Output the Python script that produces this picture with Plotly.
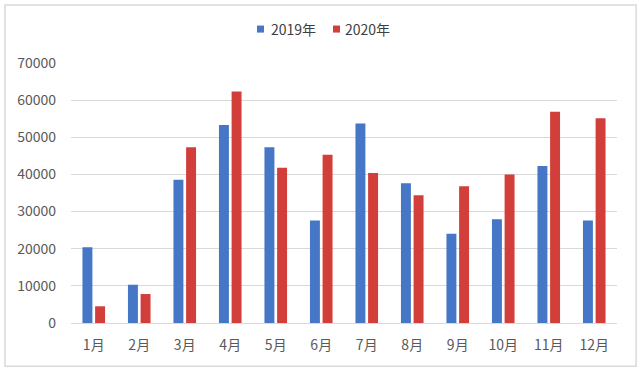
import plotly.graph_objects as go

months = ["1月", "2月", "3月", "4月", "5月", "6月", "7月", "8月", "9月", "10月", "11月", "12月"]
sales_2019 = [20400, 10300, 38600, 53300, 47300, 27600, 53700, 37600, 24000, 27900, 42300, 27600]
sales_2020 = [4500, 7800, 47300, 62300, 41800, 45300, 40400, 34400, 36800, 40000, 56900, 55100]
series_names = ["2019年", "2020年"]
y_ticks = [0, 10000, 20000, 30000, 40000, 50000, 60000, 70000]

blue = "#4577C6"
red = "#D23F3B"
series_colors = [blue, red]
font_family = "Noto Sans CJK SC, Noto Sans, sans-serif"
text_color = "#595959"

fig = go.Figure()
for nm, vals, col in zip(series_names, [sales_2019, sales_2020], series_colors):
    fig.add_trace(go.Bar(x=months, y=vals, name=nm,
                         marker=dict(color=col, line=dict(width=0)), showlegend=False))

# custom compact legend: small square swatch + label
swatch_x = [0.3407, 0.4799]
label_x = [0.3626, 0.4982]
annotations = []
shapes = [dict(type="rect", xref="paper", yref="paper",
               x0=-0.121, x1=1.035, y0=-0.166, y1=1.223,
               line=dict(color="#d9d9d9", width=1.5), fillcolor="rgba(0,0,0,0)",
               layer="below")]
for nm, col, sx, lx in zip(series_names, series_colors, swatch_x, label_x):
    shapes.append(dict(type="rect", xref="paper", yref="paper",
                       x0=sx, x1=sx + 0.0128, y0=1.117, y1=1.144,
                       line=dict(width=0), fillcolor=col))
    annotations.append(dict(
        xref="paper", yref="paper", x=lx, y=1.132, xanchor="left", yanchor="middle",
        showarrow=False, text=nm,
        font=dict(family=font_family, size=14, color="#404040"),
    ))

fig.update_layout(
    width=640, height=370,
    margin=dict(l=71, r=23, t=63, b=47, autoexpand=False),
    paper_bgcolor="white", plot_bgcolor="white",
    barmode="group", bargap=0.444, bargroupgap=0.213,
    font=dict(family=font_family, size=14, color=text_color),
    showlegend=False,
    annotations=annotations,
    shapes=shapes,
    xaxis=dict(showgrid=False, showline=True, linecolor="#d9d9d9", linewidth=1,
               ticks="", tickfont=dict(size=14, color=text_color), ticklabelstandoff=9,
               automargin=False),
    yaxis=dict(range=[0, 70000], tickvals=y_ticks, tickformat="d", showgrid=True,
               gridcolor="#d9d9d9", gridwidth=1, zeroline=False, showline=False, ticks="",
               tickfont=dict(size=14, color=text_color), ticklabelstandoff=14,
               automargin=False),
)

fig.write_html("out.html",
               config={"displayModeBar": False},
               post_script="document.body.style.margin='0';document.body.style.padding='0';"
                           "document.body.style.overflow='hidden';")
